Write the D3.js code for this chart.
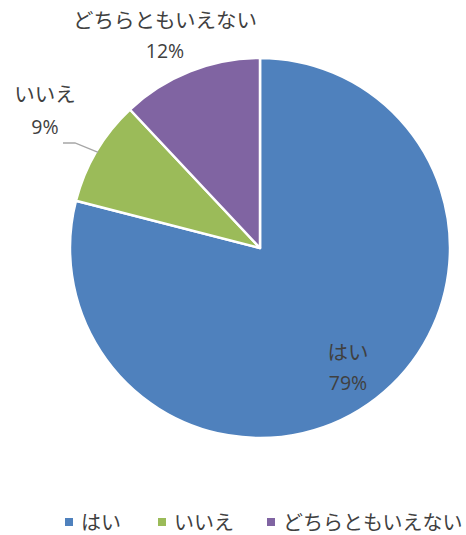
<!DOCTYPE html>
<html><head><meta charset="utf-8">
<script src="https://cdn.jsdelivr.net/npm/d3@7"></script>
<style>html,body{margin:0;padding:0;background:#fff;}</style>
</head><body>
<svg id="c" width="466" height="535"></svg>
<script>
const categories = ["はい", "いいえ", "どちらともいえない"];
const values = [79, 9, 12];
const percentLabels = ["79%", "9%", "12%"];
const colors = ["#4F81BD", "#9BBB59", "#8064A2"];

const svg = d3.select("#c");
const cx = 260, cy = 248, r = 190;
const jp = "'Noto Sans CJK JP', sans-serif";
const num = "'Open Sans', 'Noto Sans', sans-serif";
const textColor = "#404040";

const pie = d3.pie().sort(null).value(d => d)(values);
const arc = d3.arc().innerRadius(0).outerRadius(r);
const g = svg.append("g").attr("transform", `translate(${cx},${cy})`);
g.selectAll("path").data(pie).join("path")
  .attr("d", arc)
  .attr("fill", (d, i) => colors[i])
  .attr("stroke", "#fff")
  .attr("stroke-width", 2.5)
  .attr("stroke-linejoin", "round");

const labelPos = [
  {x: 88, nameY: 112, pctY: 142},
  {x: -215, nameY: -146, pctY: -114},
  {x: -95, nameY: -220, pctY: -190}
];
labelPos.forEach((p, i) => {
  g.append("text").attr("x", p.x).attr("y", p.nameY)
    .attr("text-anchor", "middle").attr("font-family", jp)
    .attr("font-size", 20.5).attr("fill", textColor).text(categories[i]);
  g.append("text").attr("x", p.x).attr("y", p.pctY)
    .attr("text-anchor", "middle").attr("font-family", num)
    .attr("font-size", 19.5).attr("fill", textColor).text(percentLabels[i]);
});

const a = (pie[1].startAngle + pie[1].endAngle) / 2;
const ex = Math.sin(a) * (r - 2), ey = -Math.cos(a) * (r - 2);
g.append("polyline")
  .attr("points", `${-197},${-105} ${-185},${-105} ${ex},${ey}`)
  .attr("fill", "none").attr("stroke", "#a6a6a6").attr("stroke-width", 1.3);

const legendX = [65, 158, 267];
const lg = svg.append("g");
categories.forEach((c, i) => {
  lg.append("rect").attr("x", legendX[i]).attr("y", 518).attr("width", 8).attr("height", 8)
    .attr("fill", colors[i]);
  lg.append("text").attr("x", legendX[i] + 16).attr("y", 530)
    .attr("font-family", jp).attr("font-size", 20).attr("fill", textColor).text(c);
});
</script>
</body></html>
